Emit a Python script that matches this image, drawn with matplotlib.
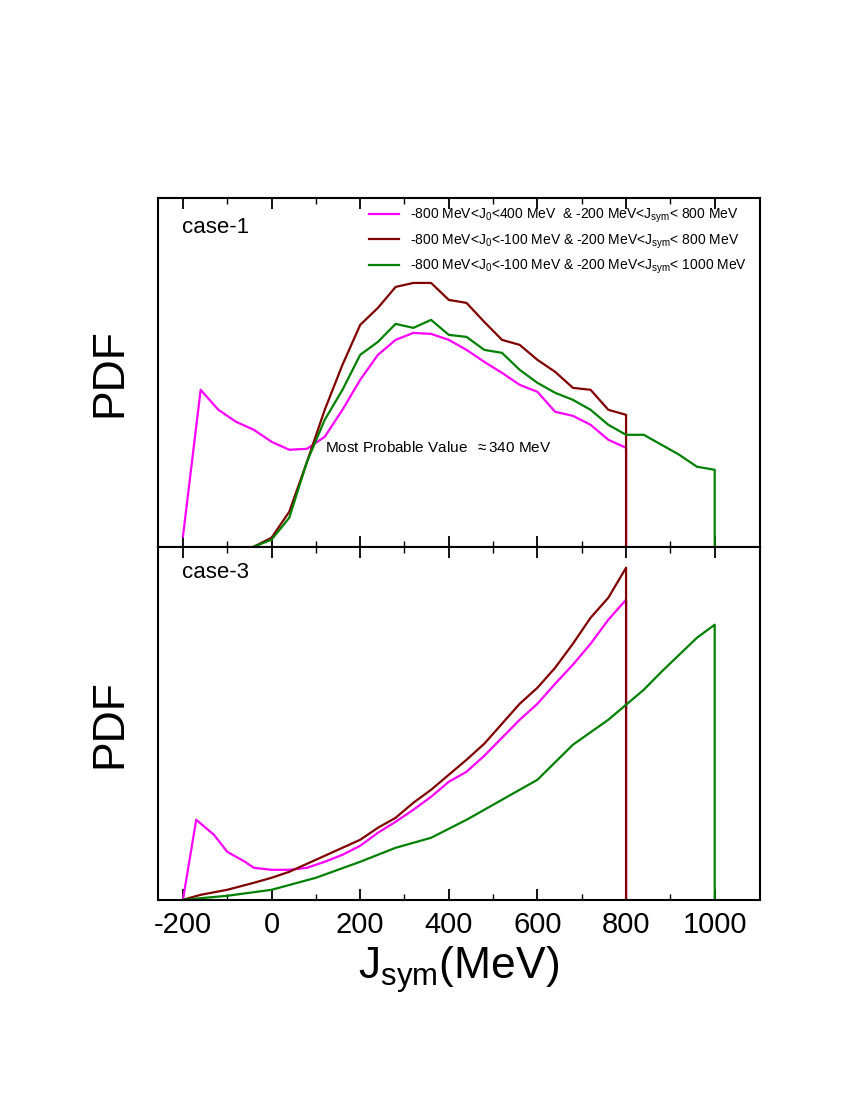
import matplotlib
matplotlib.use("Agg")
import matplotlib.pyplot as plt

plt.rcParams["font.family"] = ["Liberation Sans", "DejaVu Sans"]
plt.rcParams["mathtext.fontset"] = "custom"
plt.rcParams["mathtext.rm"] = "Liberation Sans"
plt.rcParams["mathtext.it"] = "Liberation Sans"
plt.rcParams["axes.unicode_minus"] = False

# case-1 (top), arbitrary PDF units
t_mag_x = [-200, -160, -120, -80, -40, 0, 40, 80, 120, 160, 200, 240, 280, 320, 360, 400,
           440, 480, 520, 560, 600, 640, 680, 720, 760, 800, 800]
t_mag_y = [10, 157, 137, 125, 117, 105, 97, 98, 110, 137, 167, 192, 207, 214, 213, 207,
           197, 185, 174, 162, 155, 135, 131, 122, 107, 99, 0]
t_brn_x = [-40, 0, 40, 80, 120, 160, 200, 240, 280, 320, 360, 400, 440, 480, 520, 560,
           600, 640, 680, 720, 760, 800, 800]
t_brn_y = [0, 9, 35, 85, 137, 182, 222, 239, 260, 264, 264, 247, 244, 225, 207, 202,
           187, 175, 159, 157, 137, 132, 0]
t_grn_x = [-40, 0, 40, 80, 120, 160, 200, 240, 280, 320, 360, 400, 440, 480, 520, 560,
           600, 640, 680, 720, 760, 800, 840, 880, 920, 960, 1000, 1000]
t_grn_y = [0, 7, 29, 85, 127, 157, 192, 205, 223, 219, 227, 212, 210, 197, 194, 177,
           164, 154, 147, 137, 122, 112, 112, 102, 92, 80, 77, 0]

# case-3 (bottom)
b_mag_x = [-200, -170, -130, -100, -60, -40, 0, 40, 80, 120, 160, 200, 240, 280, 320, 360,
           400, 440, 480, 520, 560, 600, 640, 680, 720, 760, 800, 800]
b_mag_y = [0, 80, 65, 48, 38, 32, 30, 30, 32, 38, 45, 54, 67, 78, 90, 103,
           118, 128, 144, 162, 180, 196, 216, 235, 256, 280, 300, 0]
b_brn_x = [-200, -160, -100, -40, 0, 40, 80, 120, 160, 200, 240, 280, 320, 360, 400,
           440, 480, 520, 560, 600, 640, 680, 720, 760, 800, 800]
b_brn_y = [0, 5, 10, 17, 22, 28, 36, 44, 52, 60, 72, 82, 97, 110, 125,
           140, 156, 176, 196, 212, 232, 256, 282, 302, 332, 0]
b_grn_x = [-200, -100, 0, 100, 200, 280, 360, 440, 520, 600, 680, 760, 800, 840, 880,
           920, 960, 1000, 1000]
b_grn_y = [0, 4, 10, 22, 38, 52, 62, 80, 100, 120, 155, 180, 195, 210, 228,
           245, 262, 275, 0]

labels = [
    "-800 MeV<J$_0$<400 MeV  & -200 MeV<J$_{sym}$< 800 MeV",
    "-800 MeV<J$_0$<-100 MeV & -200 MeV<J$_{sym}$< 800 MeV",
    "-800 MeV<J$_0$<-100 MeV & -200 MeV<J$_{sym}$< 1000 MeV",
]
colors = ["#ff00ff", "#800000", "#008000"]

fig = plt.figure(figsize=(8.5, 11), dpi=100)
ax1 = fig.add_axes([0.186, 0.503, 0.708, 0.317])
ax2 = fig.add_axes([0.186, 0.182, 0.708, 0.321])

for x, y, c, lab in zip([t_mag_x, t_brn_x, t_grn_x], [t_mag_y, t_brn_y, t_grn_y], colors, labels):
    ax1.plot(x, y, color=c, lw=1.6, label=lab)
for x, y, c in zip([b_mag_x, b_brn_x, b_grn_x], [b_mag_y, b_brn_y, b_grn_y], colors):
    ax2.plot(x, y, color=c, lw=1.6)

ax1.set_ylim(0, 349)
ax2.set_ylim(0, 353)
for ax in (ax1, ax2):
    ax.set_xlim(-256, 1102)
    ax.set_yticks([])
    ax.set_xticks(range(-200, 1001, 200))
    ax.set_xticks(range(-100, 1001, 200), minor=True)
    ax.tick_params(direction="in", length=8, width=1.3, top=True, which="major")
    ax.tick_params(direction="in", length=4, width=1, top=True, which="minor")
    for s in ax.spines.values():
        s.set_linewidth(1.5)
    ax.set_ylabel("PDF", fontsize=32, labelpad=20)

ax1.tick_params(labelbottom=False)
ax2.tick_params(labelsize=21, pad=8)
ax2.set_xlabel("J$_{sym}$(MeV)", fontsize=32)

ax1.text(0.04, 0.9, "case-1", transform=ax1.transAxes, fontsize=16)
ax2.text(0.04, 0.91, "case-3", transform=ax2.transAxes, fontsize=16)
ax1.text(120, 95, "Most Probable Value  $\\approx$340 MeV", fontsize=11)
ax1.legend(loc="upper right", bbox_to_anchor=(1.0, 1.01), frameon=False, fontsize=10,
           handlelength=2.2, labelspacing=0.5)

fig.savefig("out.png", dpi=100)
